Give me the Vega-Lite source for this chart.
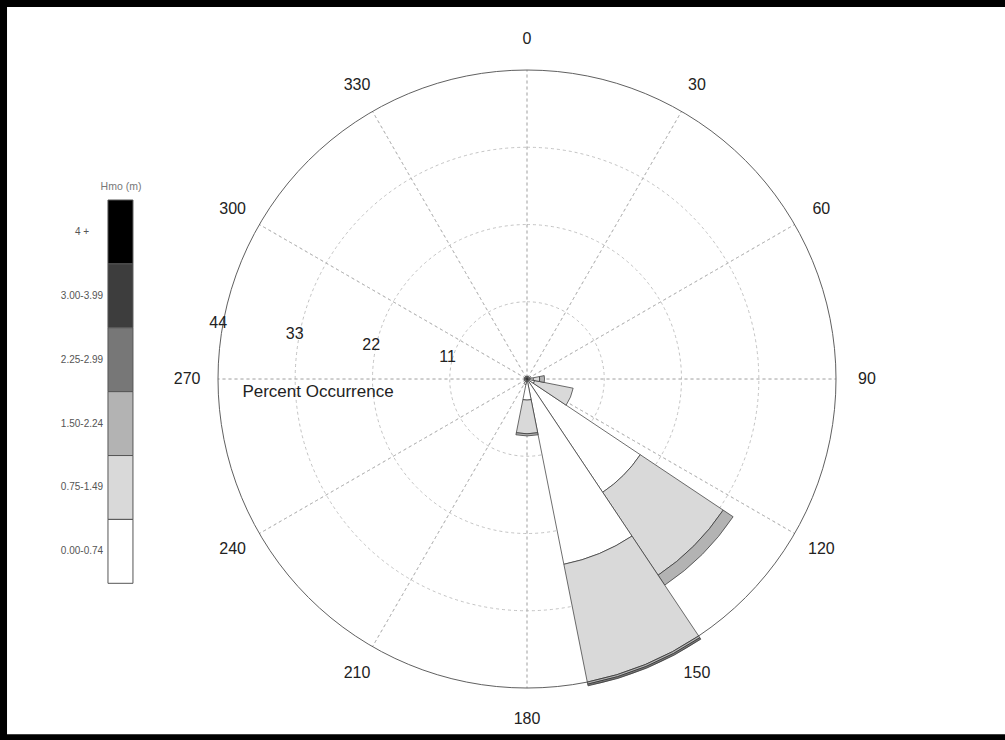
{
  "$schema": "https://vega.github.io/schema/vega-lite/v6.json",
  "width": 1005,
  "height": 740,
  "padding": 0,
  "autosize": {"type": "fit", "contains": "padding"},
  "background": "white",
  "config": {"view": {"stroke": null}, "font": "Liberation Sans", "text": {"font": "Liberation Sans"}},
  "datasets": {
    "rose": [
      {"dir": 135, "d0": 123.75, "d1": 146.25, "cls": "0.00-0.74", "ord": 0, "pct": 19.4},
      {"dir": 135, "d0": 123.75, "d1": 146.25, "cls": "0.75-1.49", "ord": 1, "pct": 14.2},
      {"dir": 135, "d0": 123.75, "d1": 146.25, "cls": "1.50-2.24", "ord": 2, "pct": 1.7},
      {"dir": 157.5, "d0": 146.25, "d1": 168.75, "cls": "0.00-0.74", "ord": 0, "pct": 26.9},
      {"dir": 157.5, "d0": 146.25, "d1": 168.75, "cls": "0.75-1.49", "ord": 1, "pct": 17.1},
      {"dir": 157.5, "d0": 146.25, "d1": 168.75, "cls": "1.50-2.24", "ord": 2, "pct": 0.3},
      {"dir": 157.5, "d0": 146.25, "d1": 168.75, "cls": "2.25-2.99", "ord": 3, "pct": 0.25},
      {"dir": 112.5, "d0": 101.25, "d1": 123.75, "cls": "0.00-0.74", "ord": 0, "pct": 1.1},
      {"dir": 112.5, "d0": 101.25, "d1": 123.75, "cls": "0.75-1.49", "ord": 1, "pct": 5.6},
      {"dir": 180, "d0": 168.75, "d1": 191.25, "cls": "0.00-0.74", "ord": 0, "pct": 3.0},
      {"dir": 180, "d0": 168.75, "d1": 191.25, "cls": "0.75-1.49", "ord": 1, "pct": 4.8},
      {"dir": 180, "d0": 168.75, "d1": 191.25, "cls": "1.50-2.24", "ord": 2, "pct": 0.3},
      {"dir": 90, "d0": 78.75, "d1": 101.25, "cls": "0.00-0.74", "ord": 0, "pct": 0.9},
      {"dir": 90, "d0": 78.75, "d1": 101.25, "cls": "0.75-1.49", "ord": 1, "pct": 0.9},
      {"dir": 90, "d0": 78.75, "d1": 101.25, "cls": "1.50-2.24", "ord": 2, "pct": 0.7},
      {"dir": 202.5, "d0": 191.25, "d1": 213.75, "cls": "0.00-0.74", "ord": 0, "pct": 0.8},
      {"dir": 67.5, "d0": 56.25, "d1": 78.75, "cls": "0.00-0.74", "ord": 0, "pct": 0.6},
      {"dir": 45, "d0": 33.75, "d1": 56.25, "cls": "0.00-0.74", "ord": 0, "pct": 0.4},
      {"dir": 22.5, "d0": 11.25, "d1": 33.75, "cls": "0.00-0.74", "ord": 0, "pct": 0.4},
      {"dir": 0, "d0": -11.25, "d1": 11.25, "cls": "0.00-0.74", "ord": 0, "pct": 0.4},
      {"dir": 337.5, "d0": 326.25, "d1": 348.75, "cls": "0.00-0.74", "ord": 0, "pct": 0.4},
      {"dir": 315, "d0": 303.75, "d1": 326.25, "cls": "0.00-0.74", "ord": 0, "pct": 0.4},
      {"dir": 292.5, "d0": 281.25, "d1": 303.75, "cls": "0.00-0.74", "ord": 0, "pct": 0.4},
      {"dir": 270, "d0": 258.75, "d1": 281.25, "cls": "0.00-0.74", "ord": 0, "pct": 0.4},
      {"dir": 247.5, "d0": 236.25, "d1": 258.75, "cls": "0.00-0.74", "ord": 0, "pct": 0.4},
      {"dir": 225, "d0": 213.75, "d1": 236.25, "cls": "0.00-0.74", "ord": 0, "pct": 0.4}
    ],
    "rings": [{"r": 11}, {"r": 22}, {"r": 33}],
    "spokes": [{"a": 0}, {"a": 30}, {"a": 60}, {"a": 90}, {"a": 120}, {"a": 150}, {"a": 180}, {"a": 210}, {"a": 240}, {"a": 270}, {"a": 300}, {"a": 330}],
    "pctlab": [{"v": 11, "t": "11"}, {"v": 22, "t": "22"}, {"v": 33, "t": "33"}, {"v": 44, "t": "44"}],
    "classes": [{"cls": "4 +"}, {"cls": "3.00-3.99"}, {"cls": "2.25-2.99"}, {"cls": "1.50-2.24"}, {"cls": "0.75-1.49"}, {"cls": "0.00-0.74"}]
  },
  "resolve": {"scale": {"y": "independent"}},
  "layer": [
    {
      "layer": [
        {
          "data": {"values": [{}]},
          "mark": {"type": "rect", "fill": "black"},
          "encoding": {
            "x": {"datum": -75.07, "type": "quantitative", "scale": {"domain": [-75.07, 68.09], "nice": false, "zero": false}, "axis": null},
            "x2": {"datum": 68.09},
            "y": {"datum": 53.99, "type": "quantitative", "scale": {"domain": [-51.42, 53.99], "nice": false, "zero": false}, "axis": null},
            "y2": {"datum": 53.0}
          }
        },
        {
          "data": {"values": [{}]},
          "mark": {"type": "rect", "fill": "black"},
          "encoding": {
            "x": {"datum": -75.07, "type": "quantitative", "axis": null},
            "x2": {"datum": -74.07},
            "y": {"datum": 53.99, "type": "quantitative", "axis": null},
            "y2": {"datum": -51.42}
          }
        },
        {
          "data": {"values": [{}]},
          "mark": {"type": "rect", "fill": "black"},
          "encoding": {
            "x": {"datum": -75.07, "type": "quantitative", "axis": null},
            "x2": {"datum": 68.09},
            "y": {"datum": -50.6, "type": "quantitative", "axis": null},
            "y2": {"datum": -51.42}
          }
        },
        {
          "data": {"name": "spokes"},
          "mark": {"type": "arc", "filled": false, "stroke": "#b4b4b4", "strokeWidth": 0.8, "strokeDash": [3, 3], "strokeDashOffset": 1.5},
          "encoding": {
            "x": {"datum": 0, "type": "quantitative", "axis": null},
            "y": {"datum": 0, "type": "quantitative", "axis": null},
            "theta": {"field": "a", "type": "quantitative", "stack": null, "scale": {"domain": [0, 360], "range": [0, 6.283185307179586]}},
            "theta2": {"field": "a"},
            "radius": {"datum": 44, "type": "quantitative", "scale": {"type": "linear", "domain": [0, 44], "range": [0, 309], "zero": true, "nice": false}}
          }
        },
        {
          "data": {"name": "rings"},
          "mark": {"type": "arc", "filled": false, "stroke": "#b4b4b4", "strokeWidth": 0.8, "strokeDash": [3, 3]},
          "encoding": {
            "x": {"datum": 0, "type": "quantitative", "axis": null},
            "y": {"datum": 0, "type": "quantitative", "axis": null},
            "theta": {"datum": 0, "type": "quantitative"},
            "theta2": {"datum": 360.5},
            "radius": {"field": "r", "type": "quantitative", "stack": null}
          }
        },
        {
          "data": {"values": [{}]},
          "mark": {"type": "arc", "filled": false, "stroke": "#606060", "strokeWidth": 1},
          "encoding": {
            "x": {"datum": 0, "type": "quantitative", "axis": null},
            "y": {"datum": 0, "type": "quantitative", "axis": null},
            "theta": {"datum": 0, "type": "quantitative"},
            "theta2": {"datum": 360.5},
            "radius": {"datum": 44, "type": "quantitative"}
          }
        },
        {
          "data": {"name": "rose"},
          "transform": [
            {"stack": "pct", "groupby": ["dir"], "sort": [{"field": "ord", "order": "ascending"}], "as": ["r0", "r1"]}
          ],
          "mark": {"type": "arc", "stroke": "#303030", "strokeWidth": 0.7},
          "encoding": {
            "x": {"datum": 0, "type": "quantitative", "axis": null},
            "y": {"datum": 0, "type": "quantitative", "axis": null},
            "theta": {"field": "d0", "type": "quantitative", "stack": null},
            "theta2": {"field": "d1"},
            "radius": {"field": "r1", "type": "quantitative", "stack": null},
            "radius2": {"field": "r0"},
            "fill": {"field": "cls", "type": "nominal", "legend": null,
              "scale": {"domain": ["0.00-0.74", "0.75-1.49", "1.50-2.24", "2.25-2.99", "3.00-3.99", "4 +"],
                        "range": ["#ffffff", "#d9d9d9", "#b3b3b3", "#777777", "#3d3d3d", "#000000"]}}
          }
        },
        {
          "data": {"name": "spokes"},
          "mark": {"type": "text", "fontSize": 16, "fill": "#222222", "align": "center", "baseline": "middle"},
          "encoding": {
            "x": {"datum": 0, "type": "quantitative", "axis": null},
            "y": {"datum": 0, "type": "quantitative", "axis": null},
            "theta": {"field": "a", "type": "quantitative", "stack": null},
            "radius": {"datum": 48.4, "type": "quantitative"},
            "text": {"field": "a", "type": "quantitative", "format": "d"}
          }
        },
        {
          "data": {"name": "pctlab"},
          "mark": {"type": "text", "fontSize": 16, "fill": "#222222", "align": "center", "baseline": "middle", "radiusOffset": 3, "dy": -11},
          "encoding": {
            "x": {"datum": 0, "type": "quantitative", "axis": null},
            "y": {"datum": 0, "type": "quantitative", "axis": null},
            "theta": {"datum": 278.25, "type": "quantitative"},
            "radius": {"field": "v", "type": "quantitative", "stack": null},
            "text": {"field": "t", "type": "nominal"}
          }
        },
        {
          "data": {"values": [{}]},
          "mark": {"type": "text", "text": "Percent Occurrence", "fontSize": 17, "fill": "#222222", "align": "center", "baseline": "middle"},
          "encoding": {
            "x": {"datum": -29.77, "type": "quantitative", "axis": null},
            "y": {"datum": -1.85, "type": "quantitative", "axis": null}
          }
        },
        {
          "data": {"values": [{}]},
          "mark": {"type": "text", "text": "Hmo (m)", "fontSize": 10.5, "fill": "#777777", "align": "center", "baseline": "middle"},
          "encoding": {
            "x": {"datum": -57.83, "type": "quantitative", "axis": null},
            "y": {"datum": 27.35, "type": "quantitative", "axis": null}
          }
        }
      ]
    },
    {
      "data": {"name": "classes"},
      "layer": [
        {
          "mark": {"type": "rect", "stroke": "#555555", "strokeWidth": 1},
          "encoding": {
            "y": {"field": "cls", "type": "ordinal", "axis": null,
              "scale": {"domain": ["4 +", "3.00-3.99", "2.25-2.99", "1.50-2.24", "0.75-1.49", "0.00-0.74"], "range": [200, 583.3], "paddingInner": 0, "paddingOuter": 0}},
            "x": {"datum": -59.69, "type": "quantitative", "axis": null},
            "x2": {"datum": -56.13},
            "fill": {"field": "cls", "type": "nominal", "legend": null}
          }
        },
        {
          "mark": {"type": "text", "fontSize": 10, "fill": "#555555", "align": "center", "baseline": "middle"},
          "encoding": {
            "y": {"field": "cls", "type": "ordinal", "axis": null},
            "x": {"datum": -63.39, "type": "quantitative", "axis": null},
            "text": {"field": "cls", "type": "nominal"}
          }
        }
      ]
    }
  ]
}
